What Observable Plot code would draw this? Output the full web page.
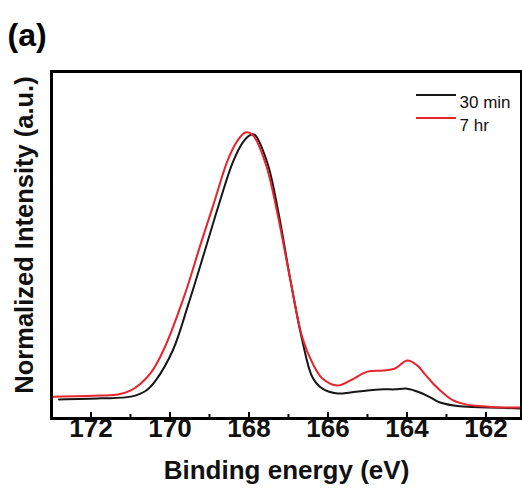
<!DOCTYPE html>
<html>
<head>
<meta charset="utf-8">
<script src="https://cdn.jsdelivr.net/npm/d3@7"></script>
<script src="https://cdn.jsdelivr.net/npm/@observablehq/plot@0.6"></script>
<style>
  html, body { margin: 0; padding: 0; background: #fff; }
  #chart { width: 522px; height: 492px; }
</style>
</head>
<body>
<div id="chart"></div>
<script>
// Binding energy (eV) and normalized intensity for each series
const energy30 = [172.81, 171.75, 170.99, 170.61, 170.36, 169.93, 169.53, 169.10, 168.77, 168.41, 168.16, 167.98, 167.86, 167.53, 167.25, 166.95, 166.65, 166.39, 166.14, 165.76, 165.43, 165.0, 164.60, 164.30, 163.99, 163.67, 163.41, 163.16, 162.66, 161.97, 161.14];
const intensity30 = [0.055, 0.058, 0.063, 0.080, 0.110, 0.196, 0.331, 0.490, 0.614, 0.738, 0.795, 0.816, 0.818, 0.735, 0.591, 0.398, 0.225, 0.118, 0.086, 0.072, 0.075, 0.081, 0.084, 0.084, 0.086, 0.075, 0.061, 0.046, 0.035, 0.032, 0.029];

const energy7 = [172.96, 171.75, 171.32, 170.99, 170.74, 170.48, 170.16, 169.65, 169.22, 168.89, 168.54, 168.29, 168.09, 167.91, 167.58, 167.28, 166.95, 166.65, 166.39, 166.14, 165.76, 165.43, 165.0, 164.60, 164.30, 163.99, 163.74, 163.54, 163.34, 163.04, 162.83, 162.48, 162.08, 161.65, 161.14];
const intensity7 = [0.063, 0.066, 0.069, 0.081, 0.101, 0.132, 0.198, 0.349, 0.504, 0.620, 0.744, 0.801, 0.824, 0.818, 0.735, 0.591, 0.398, 0.233, 0.159, 0.115, 0.095, 0.110, 0.135, 0.138, 0.144, 0.167, 0.153, 0.127, 0.101, 0.069, 0.052, 0.040, 0.035, 0.032, 0.032];

const seriesNames = ["30 min", "7 hr"];
const seriesColors = ["#161616", "#e8232c"];
const majorTicks = [172, 170, 168, 166, 164, 162];
const minorTicks = [171, 169, 167, 165, 163];

const xLabel = "Binding energy (eV)";
const yLabel = "Normalized Intensity (a.u.)";
const panelLabel = "(a)";

const data = [
  ...energy30.map((e, i) => ({series: seriesNames[0], energy: e, intensity: intensity30[i]})),
  ...energy7.map((e, i) => ({series: seriesNames[1], energy: e, intensity: intensity7[i]}))
];

const font = "'Liberation Sans', Arial, sans-serif";
const W = 522, H = 492;
const mL = 51, mT = 71, mR = 1, mB = 74;
const frameH = H - mT - mB;
const legendDy = [24, 47];

const plot = Plot.plot({
  width: W,
  height: H,
  marginLeft: mL,
  marginTop: mT,
  marginRight: mR,
  marginBottom: mB,
  style: {fontFamily: font, background: "#fff", overflow: "visible"},
  x: {domain: [173, 161.1], label: null, axis: null},
  y: {domain: [0, 1], axis: null},
  color: {domain: seriesNames, range: seriesColors},
  marks: [
    Plot.line(data, {x: "energy", y: "intensity", z: "series", stroke: "series", strokeWidth: 2, curve: "catmull-rom"}),
    Plot.tickX(majorTicks, {x: d => d, stroke: "#000", strokeWidth: 2, insetTop: frameH - 6}),
    Plot.tickX(minorTicks, {x: d => d, stroke: "#000", strokeWidth: 2, insetTop: frameH - 4}),
    Plot.text(majorTicks, {x: d => d, text: d => String(d), frameAnchor: "bottom", dy: 18, fontSize: 26, fontWeight: "bold", fill: "#111"}),
    Plot.frame({stroke: "#000", strokeWidth: 3}),
    Plot.text([xLabel], {frameAnchor: "bottom", dy: 60, fontSize: 26, fontWeight: "bold", fill: "#111"}),
    Plot.text([yLabel], {frameAnchor: "left", textAnchor: "middle", rotate: -90, dx: -27, dy: -10, fontSize: 25.5, fontWeight: "bold", fill: "#111"}),
    Plot.text([panelLabel], {frameAnchor: "top-left", textAnchor: "start", dx: -44, dy: -48, fontSize: 32, fontWeight: "bold", fill: "#000"}),
    Plot.text([seriesNames[0]], {frameAnchor: "top-right", textAnchor: "start", dx: -62, dy: legendDy[0], fontSize: 17, fill: "#111"}),
    Plot.text([seriesNames[1]], {frameAnchor: "top-right", textAnchor: "start", dx: -62, dy: legendDy[1], fontSize: 17, fill: "#111"})
  ]
});

document.getElementById("chart").appendChild(plot);

// legend swatches, placed relative to the frame
const svg = d3.select(plot);
seriesNames.forEach((name, i) => {
  const y = mT + legendDy[i];
  svg.append("line")
    .attr("x1", W - mR - 105).attr("x2", W - mR - 65)
    .attr("y1", y).attr("y2", y)
    .attr("stroke", seriesColors[i]).attr("stroke-width", 2);
});
</script>
</body>
</html>
